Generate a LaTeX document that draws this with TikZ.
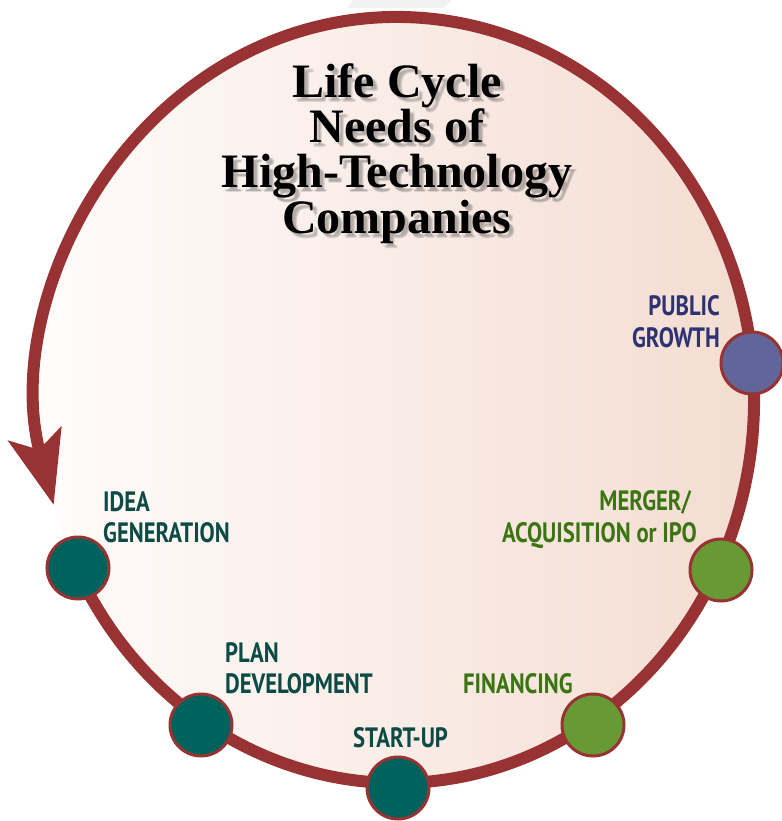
\documentclass[tikz,border=0pt]{standalone}
\usepackage{fontspec}
\usetikzlibrary{arrows.meta}
\newfontfamily\titlefam{Liberation Serif}
\newfontfamily\labelfam[FakeStretch=0.81]{PT Sans}
\definecolor{ringred}{HTML}{993333}
\definecolor{tealfill}{HTML}{00625C}
\definecolor{greenfill}{HTML}{679A34}
\definecolor{purplefill}{HTML}{62659A}
\definecolor{tealtext}{HTML}{0B4A45}
\definecolor{greentext}{HTML}{3B7512}
\definecolor{purpletext}{HTML}{2D3272}
\definecolor{bgleft}{HTML}{FFFCFB}
\definecolor{bgright}{HTML}{F4DCD1}
\newcommand{\ttline}[3]{%
  \foreach \dx/\dy [count=\k] in {3/3,4/5,5/4}{
    \node[titletext, text=black!70, opacity=0.16] (#1s\k) at (397+\dx,#2+\dy) {#3};
  }
  \node[titletext] (#1) at (397,#2) {#3};
}
\begin{document}
\begin{tikzpicture}[x=1pt,y=-1pt,
  titletext/.style={font=\titlefam\bfseries\fontsize{48}{45}\selectfont, anchor=base, inner sep=0pt},
  lbl/.style={font=\labelfam\bfseries\fontsize{28}{31}\selectfont, inner sep=0pt},
  ringline/.style={draw=ringred, line width=12pt},
  stage/.style={circle, minimum size=62pt, inner sep=0pt, draw=ringred, line width=3pt}
]
\useasboundingbox (0,0) rectangle (781,821);
\fill[white] (0,0) rectangle (781,821);
% faint shape at top
\fill[black!5] (353,0) -- (452,0) -- (443,8) -- (347,8) -- cycle;
% body of the cycle
\shade[left color=bgleft, right color=bgright] (397,400) ellipse [x radius=357, y radius=383];
% ring with arrow
\draw[ringline, -{Stealth[length=73pt, width=54pt, inset=16pt]}]
  ({397+357*cos(150)},{400+383*sin(150)}) arc[start angle=150, end angle=-195.9, x radius=357, y radius=383];
% title
\ttline{t1}{98}{Life Cycle}
\ttline{t2}{143}{Needs of}
\ttline{t3}{188}{High-Technology}
\ttline{t4}{233}{Companies}
% stage circles
\node[stage, fill=tealfill] (idea) at (78,568) {};
\node[stage, fill=tealfill] (plan) at (201,725) {};
\node[stage, fill=tealfill] (start) at (398,788) {};
\node[stage, fill=greenfill] (fin) at (593,725) {};
\node[stage, fill=greenfill] (merger) at (721,570) {};
\node[stage, fill=purplefill] (public) at (752,363) {};
% labels
\node[lbl, text=tealtext, anchor=base west] (lidea1) at (103,511) {IDEA};
\node[lbl, text=tealtext, anchor=base west] (lidea2) at (103,542) {GENERATION};
\node[lbl, text=tealtext, anchor=base west] (lplan1) at (225,662) {PLAN};
\node[lbl, text=tealtext, anchor=base west] (lplan2) at (225,693) {DEVELOPMENT};
\node[lbl, text=tealtext, anchor=base west] (lstart) at (353,747) {START-UP};
\node[lbl, text=greentext, anchor=base west] (lfin) at (463,693) {FINANCING};
\node[lbl, text=greentext, anchor=base east] (lmerg1) at (691,510) {MERGER/};
\node[lbl, text=greentext, anchor=base east] (lmerg2) at (697,542) {ACQUISITION or IPO};
\node[lbl, text=purpletext, anchor=base east] (lpub1) at (720,315) {PUBLIC};
\node[lbl, text=purpletext, anchor=base east] (lpub2) at (720,347) {GROWTH};
\end{tikzpicture}
\end{document}
